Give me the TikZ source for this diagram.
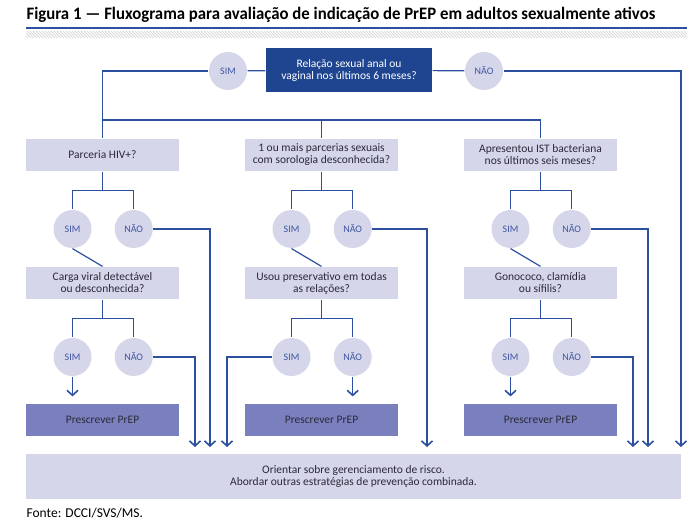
\documentclass[tikz,border=0pt]{standalone}
\usepackage{fontspec}
\setmainfont{Carlito}
\usetikzlibrary{arrows.meta,positioning}
\definecolor{linha}{HTML}{2C4FA0}
\definecolor{escuro}{HTML}{1F4591}
\definecolor{claro}{HTML}{D6D6EB}
\definecolor{prep}{HTML}{7A80BE}
\definecolor{texto}{HTML}{2A2A3A}
\definecolor{respcor}{HTML}{3C56A0}

\begin{document}
\begin{tikzpicture}[x=1pt,y=-1pt,>={Straight Barb[length=5pt,width=11pt,line width=1.6pt]},line width=1.2pt,font=\fontsize{11.5}{12}\selectfont]
\tikzstyle{pergunta}=[fill=claro,text=texto,minimum width=153pt,minimum height=32pt,align=center,inner sep=0pt]
\tikzstyle{resp}=[circle,fill=claro,text=respcor,minimum size=38pt,inner sep=0pt,font=\fontsize{10}{10}\selectfont]
\tikzstyle{prescr}=[pergunta,fill=prep]
\tikzstyle{fluxo}=[draw=linha]
\useasboundingbox (0,0) rectangle (700,529);

% titulo
\node[anchor=base west,inner sep=0pt,text=black] (titulo) at (26,19.5)
  {\scalebox{0.958}[1]{\fontsize{17.5}{17.5}\selectfont\bfseries Figura 1 — Fluxograma para avaliação de indicação de PrEP em adultos sexualmente ativos}};
\fill[linha] (26,27) rectangle (687,29);
\begin{scope}
\clip (26,31) rectangle (687,38);
\foreach \x in {18,21,...,690} \draw[gray!30,line width=0.8pt] (\x,31) -- (\x+7,38);
\end{scope}

% pergunta inicial
\node[pergunta,fill=escuro,text=white,minimum width=166pt,minimum height=44pt] (q0) at (349,70) {Relação sexual anal ou\\vaginal nos últimos 6 meses?};
\node[resp] (s0) at (228,71) {SIM};
\node[resp] (n0) at (484,71) {NÃO};

% coluna a
\node[pergunta] (qa1) at (102.5,155) {Parceria HIV+?};
\node[resp] (sa1) at (72.5,229) {SIM};
\node[resp] (na1) [right=22pt of sa1] {NÃO};
\node[pergunta] (qa2) at (102.5,283) {Carga viral detectável\\ou desconhecida?};
\node[resp] (sa2) at (72.5,357) {SIM};
\node[resp] (na2) [right=22pt of sa2] {NÃO};
\node[prescr] (pa) at (102.5,420) {Prescrever PrEP};

% coluna b
\node[pergunta] (qb1) at (321.5,155) {1 ou mais parcerias sexuais\\com sorologia desconhecida?};
\node[resp] (sb1) at (291.5,229) {SIM};
\node[resp] (nb1) [right=22pt of sb1] {NÃO};
\node[pergunta] (qb2) at (321.5,283) {Usou preservativo em todas\\as relações?};
\node[resp] (sb2) at (291.5,357) {SIM};
\node[resp] (nb2) [right=22pt of sb2] {NÃO};
\node[prescr] (pb) at (321.5,420) {Prescrever PrEP};

% coluna c
\node[pergunta] (qc1) at (540.5,155) {Apresentou IST bacteriana\\nos últimos seis meses?};
\node[resp] (sc1) at (510.5,229) {SIM};
\node[resp] (nc1) [right=22pt of sc1] {NÃO};
\node[pergunta] (qc2) at (540.5,283) {Gonococo, clamídia\\ou sífilis?};
\node[resp] (sc2) at (510.5,357) {SIM};
\node[resp] (nc2) [right=22pt of sc2] {NÃO};
\node[prescr] (pc) at (540.5,420) {Prescrever PrEP};

% caixa final
\node[pergunta,minimum width=655pt,minimum height=45pt] (fim) at (353.5,476.5) {Orientar sobre gerenciamento de risco.\\Abordar outras estratégias de prevenção combinada.};
\node[anchor=base west,inner sep=0pt,text=black,font=\fontsize{13.5}{14}\selectfont] (fonte) at (26,517) {Fonte: DCCI/SVS/MS.};

% pontos de chegada
\coordinate (ramo) at (321.5,120);
\coordinate (d0) at (681,447);
\coordinate (da1) at (210,447);
\coordinate (da2) at (195,447);
\coordinate (db1) at (427,447);
\coordinate (db2) at (227,447);
\coordinate (dc1) at (648,447);
\coordinate (dc2) at (633,447);

\path[fluxo]
(q0) edge (s0)
(q0) edge (n0);
\draw[fluxo] (s0) -| (qa1.north);
\draw[fluxo] (ramo -| qa1.north) -| (qc1.north);
\draw[fluxo] (ramo) -- (qb1.north);
\foreach \c in {a,b,c} {
  \draw[fluxo] (q\c1.south) -- ++(0,19) coordinate (k\c1) -| (s\c1.north);
  \draw[fluxo] (k\c1) -| (n\c1.north);
  \draw[fluxo] (s\c1.south) -- (q\c2.north);
  \draw[fluxo] (q\c2.south) -- ++(0,19) coordinate (k\c2) -| (s\c2.north);
  \draw[fluxo] (k\c2) -| (n\c2.north);
}
\draw[fluxo,->,shorten >=7pt] (sa2) -- (sa2 |- pa.north);
\draw[fluxo,->,shorten >=7pt] (nb2) -- (nb2 |- pb.north);
\draw[fluxo,->,shorten >=7pt] (sc2) -- (sc2 |- pc.north);
\draw[fluxo,->] (n0) -| (d0);
\draw[fluxo,->] (na1) -| (da1);
\draw[fluxo,->] (na2) -| (da2);
\draw[fluxo,->] (nb1) -| (db1);
\draw[fluxo,->] (sb2) -| (db2);
\draw[fluxo,->] (nc1) -| (dc1);
\draw[fluxo,->] (nc2) -| (dc2);
\end{tikzpicture}
\end{document}
